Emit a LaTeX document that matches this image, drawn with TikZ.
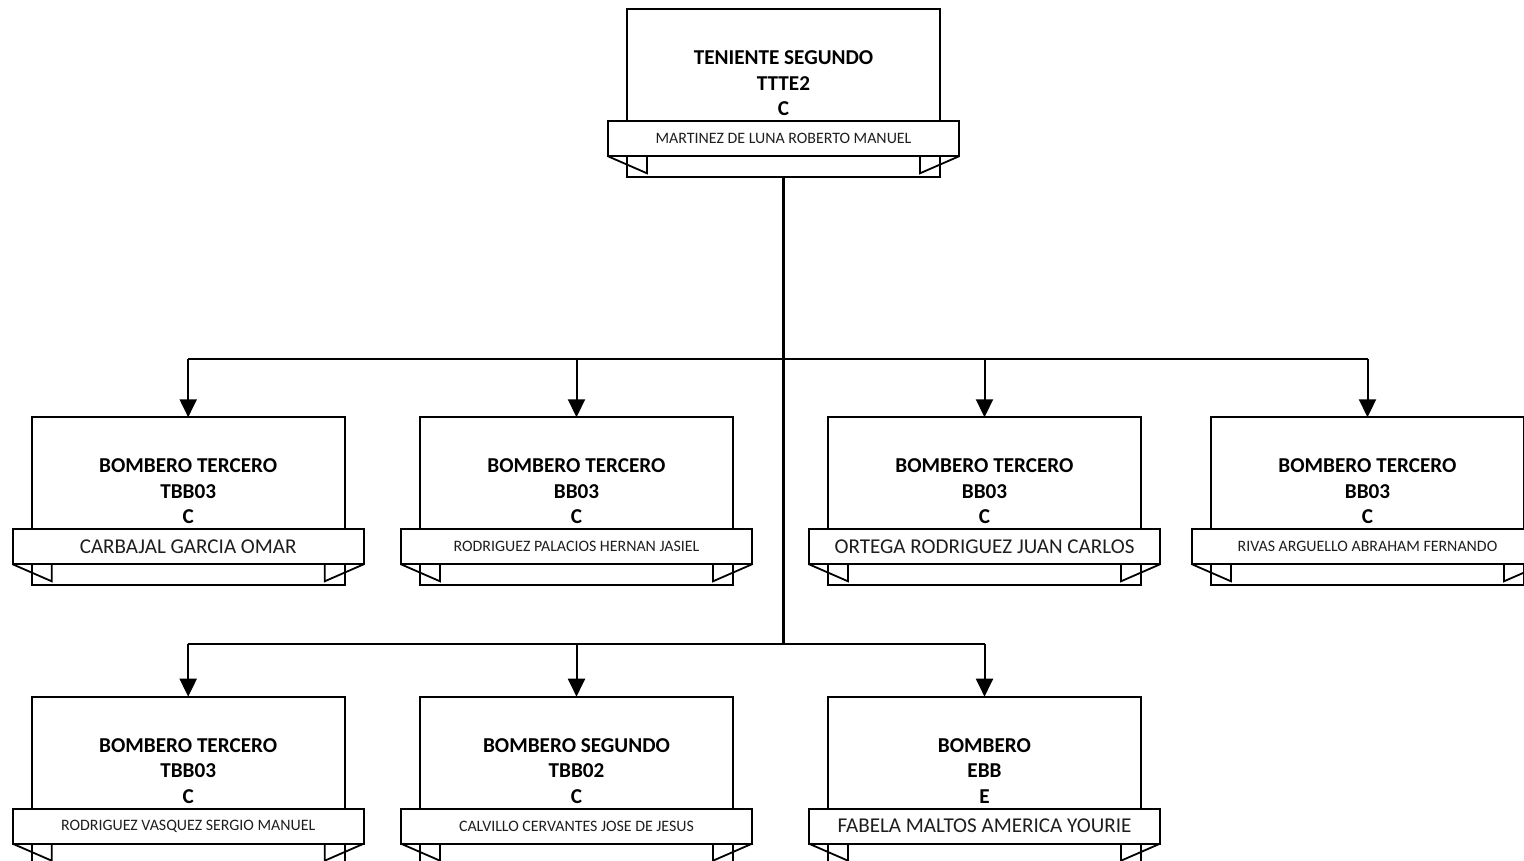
\documentclass[tikz,border=0pt]{standalone}
\usepackage{fontspec}
\setmainfont{Carlito}
\usetikzlibrary{arrows.meta}
\definecolor{nametext}{RGB}{30,30,30}
\tikzset{
  post/.style={draw=black, line width=1.8pt, fill=white, minimum width=313pt, minimum height=168pt, anchor=north west, inner sep=0pt, outer sep=0pt},
  band/.style={draw=black, line width=1.8pt, fill=white, minimum width=351pt, minimum height=35pt, anchor=north west, inner sep=0pt, outer sep=0pt, text=nametext},
  title/.style={align=center, font=\fontsize{21.2}{25.5}\selectfont\bfseries, inner sep=0pt, text=black},
  fold/.style={draw=black, line width=1.8pt, line join=miter},
  trunk/.style={line width=3pt},
  bus/.style={line width=2.5pt},
  branch/.style={line width=2pt, -{Triangle[width=17pt,length=18pt]}},
  big/.style={font=\fontsize{21.1}{25}\selectfont},
  small/.style={font=\fontsize{15.9}{19}\selectfont},
}
% #1 name, #2 x, #3 y, #4 title lines, #5 name style, #6 name text
\newcommand\orgpost[6]{%
  \node[post] (#1) at (#2,#3) {};
  \node[title] (#1-t) at ([yshift=-74pt]#1.north) {#4};
  \node[band,#5] (#1-n) at ([xshift=-19pt,yshift=-112pt]#1.north west) {#6};
  \draw[fold] (#1-n.south west) -- ([xshift=20pt,yshift=4pt]#1.south west) -- ([xshift=39pt]#1-n.south west);
  \draw[fold] (#1-n.south east) -- ([xshift=-20pt,yshift=4pt]#1.south east) -- ([xshift=-39pt]#1-n.south east);
}
\begin{document}
\begin{tikzpicture}[x=1pt,y=-1pt]
\useasboundingbox (0,0) rectangle (1524,861);
\clip (0,0) rectangle (1524,861);
\fill[white] (0,0) rectangle (1524,861);
\coordinate (lvl1) at (0,359);
\coordinate (lvl2) at (0,644);

\orgpost{top}{627}{9.3}{TENIENTE SEGUNDO\\TTTE2\\C}{small}{MARTINEZ DE LUNA ROBERTO MANUEL}

\orgpost{b1}{31.7}{417.3}{BOMBERO TERCERO\\TBB03\\C}{big}{CARBAJAL GARCIA OMAR}
\orgpost{b2}{420}{417.3}{BOMBERO TERCERO\\BB03\\C}{small}{RODRIGUEZ PALACIOS HERNAN JASIEL}
\orgpost{b3}{828}{417.3}{BOMBERO TERCERO\\BB03\\C}{big}{ORTEGA RODRIGUEZ JUAN CARLOS}
\orgpost{b4}{1211}{417.3}{BOMBERO TERCERO\\BB03\\C}{small}{RIVAS ARGUELLO ABRAHAM FERNANDO}

\orgpost{b5}{31.7}{696.7}{BOMBERO TERCERO\\TBB03\\C}{small}{RODRIGUEZ VASQUEZ SERGIO MANUEL}
\orgpost{b6}{420}{696.7}{BOMBERO SEGUNDO\\TBB02\\C}{small}{CALVILLO CERVANTES JOSE DE JESUS}
\orgpost{b7}{828}{696.7}{BOMBERO\\EBB\\E}{big}{FABELA MALTOS AMERICA YOURIE}

\draw[trunk] (top.south) -- (top.south |- lvl2);
\draw[bus] (b1.north |- lvl1) -- (b4.north |- lvl1);
\draw[bus] (b5.north |- lvl2) -- (b7.north |- lvl2);
\foreach \b in {b1,b2,b3,b4}{\draw[branch] (\b.north |- lvl1) -- (\b.north);}
\foreach \b in {b5,b6,b7}{\draw[branch] (\b.north |- lvl2) -- (\b.north);}
\end{tikzpicture}
\end{document}
